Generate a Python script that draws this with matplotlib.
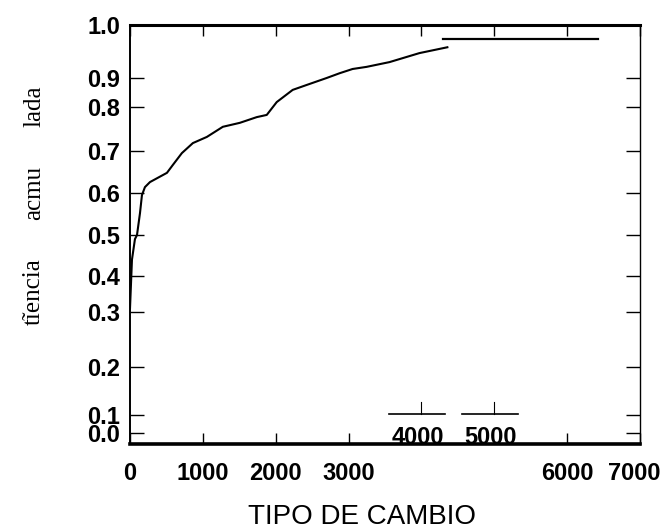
import numpy as np
import matplotlib
matplotlib.use('Agg')
import matplotlib.pyplot as plt
from matplotlib.transforms import ScaledTranslation

plt.rcParams['font.family'] = ['Liberation Sans', 'DejaVu Sans']

# frecuencia acumulada vs tipo de cambio
tipo_cambio = [0, 27, 68, 96, 137, 164, 205, 274, 507, 589, 712, 863, 1055, 1274,
               1507, 1740, 1877, 2014, 2233, 2425, 2699, 2877, 3055, 3247, 3562,
               3973, 4356]
frec_acum = [0.31, 0.44, 0.49, 0.50, 0.552, 0.595, 0.614, 0.626, 0.648, 0.667,
             0.695, 0.718, 0.732, 0.755, 0.764, 0.777, 0.782, 0.817, 0.859, 0.876,
             0.900, 0.909, 0.917, 0.921, 0.930, 0.947, 0.958]
# tramo final horizontal
tramo_x = [4300, 6425]
tramo_y = [0.974, 0.974]

x_ticks = [0, 1000, 2000, 3000, 4000, 5000, 6000, 7000]
x_labels = ['0', '1000', '2000', '3000', '', '', '6000', '7000']
y_ticks = [0.0, 0.1, 0.2, 0.3, 0.4, 0.5, 0.6, 0.7, 0.8, 0.9, 1.0]

# la escala vertical del original no es regular: calibracion valor -> altura
escala_val = [-0.06, 0.0, 0.1, 0.2, 0.3, 0.4, 0.5, 0.6, 0.7, 0.8, 0.9, 1.0]
escala_pos = [0, 11, 29, 77, 132, 168, 209, 251, 293, 337, 366, 419]


def fwd(v):
    return np.interp(v, escala_val, escala_pos)


def inv(p):
    return np.interp(p, escala_pos, escala_val)


fig = plt.figure(figsize=(6.64, 5.30), dpi=100)
ax = fig.add_axes([130 / 664, 86 / 530, 510 / 664, 419 / 530])
ax.set_yscale('function', functions=(fwd, inv))

ax.plot(tipo_cambio, frec_acum, color='k', lw=1.5)
ax.plot(tramo_x, tramo_y, color='k', lw=1.6)

ax.set_xlim(0, 7000)
ax.set_ylim(-0.06, 1.0)

ax.set_xticks(x_ticks)
ax.set_xticklabels(x_labels, fontsize=17, fontweight='bold')
ax.set_yticks(y_ticks)
ax.set_yticklabels(['%.1f' % v for v in y_ticks], fontsize=17, fontweight='bold')

ax.tick_params(axis='both', direction='in', top=True, right=True, width=1.0)
ax.tick_params(axis='x', length=8, pad=13)
ax.tick_params(axis='y', length=10, pad=7)

# el rotulo 7000 queda algo a la izquierda de su marca
lab7000 = ax.get_xticklabels()[-1]
lab7000.set_transform(lab7000.get_transform()
                      + ScaledTranslation(-6 / 100, 0, fig.dpi_scale_trans))

# 4000 y 5000 aparecen dentro del eje, con una raya encima
xt = ax.get_xaxis_transform()
for i in (4, 5):
    ax.xaxis.get_major_ticks()[i].tick1line.set_visible(False)
    xv = x_ticks[i]
    ax.text(xv - 50, 0.0, str(xv), transform=xt, ha='center', va='baseline',
            fontsize=17, fontweight='bold')
    ax.plot([xv - 450, xv + 330], [0.072, 0.072], transform=xt, color='k',
            lw=1.2, clip_on=False)
    ax.plot([xv, xv], [0.072, 0.10], transform=xt, color='k', lw=0.8,
            clip_on=False)

for side, lw in (('top', 2.2), ('bottom', 2.6), ('left', 1.4), ('right', 1.0)):
    ax.spines[side].set_linewidth(lw)

# titulo del eje y (escaneado, fragmentado)
for txt, ypx in (('lada', 106), ('acmu', 193), ('tĩencia', 292)):
    fig.text(34 / 664, 1 - ypx / 530, txt, rotation=90, ha='center', va='center',
             fontsize=18, family=['Liberation Serif', 'DejaVu Serif'])

fig.text(362 / 664, 1 - 517 / 530, 'TIPO DE CAMBIO', ha='center', va='center',
         fontsize=20)

fig.savefig('out.png', dpi=100)
